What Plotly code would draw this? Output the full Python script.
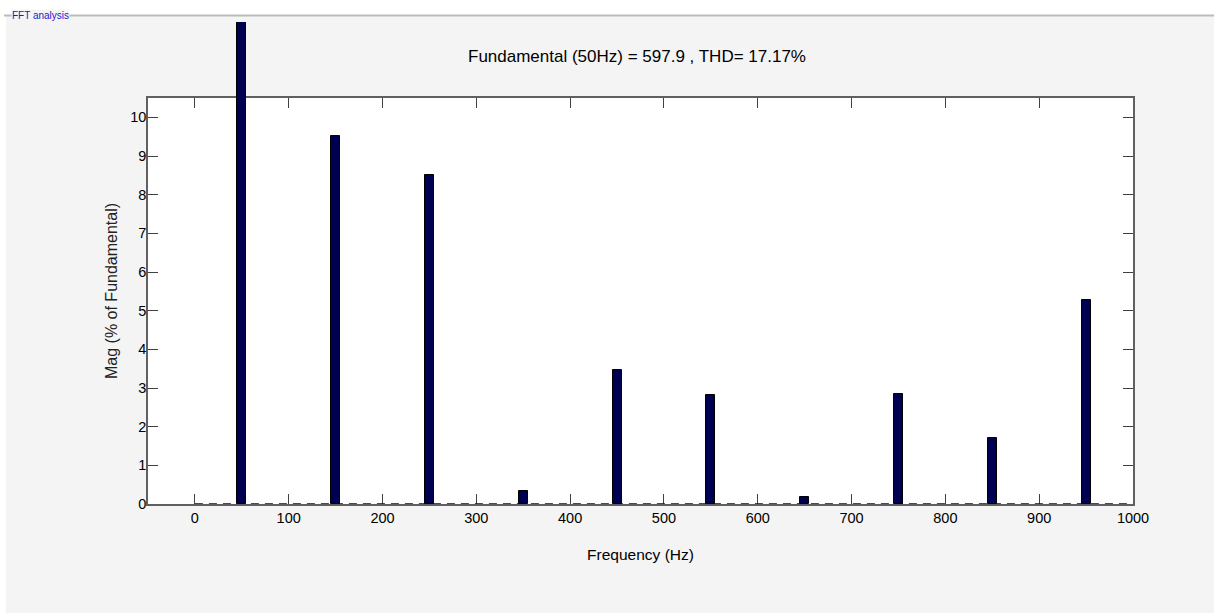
import plotly.graph_objects as go

# Data
freqs = [50, 150, 250, 350, 450, 550, 650, 750, 850, 950]
mags = [100.0, 9.53, 8.50, 0.34, 3.46, 2.82, 0.18, 2.84, 1.71, 5.27]
baseline_x = [0, 1000]
baseline_y = [0, 0]
x_ticks = list(range(0, 1001, 100))
y_ticks = list(range(0, 11))
title_text = "Fundamental (50Hz) = 597.9 , THD= 17.17%"

W, H = 1214, 613
L, R, T, B = 148, 1214 - 1133, 22, 613 - 504
ph = H - T - B
pw = W - L - R
ytop = (504 - 98) / ph
YMAX = 10.5

def px_x(p):
    return (p - L) / pw

def px_y(p):
    return (504 - p) / ph

fig = go.Figure()

fig.add_trace(go.Scatter(
    x=baseline_x, y=baseline_y, mode="lines",
    line=dict(color="#111111", width=1.6, dash="8px,6px"),
    xaxis="x", yaxis="y", cliponaxis=False, showlegend=False, hoverinfo="skip"))

fig.add_trace(go.Bar(
    x=freqs, y=mags, width=9.5,
    marker=dict(color="#000050", line=dict(color="#000000", width=1)),
    xaxis="x", yaxis="y2", showlegend=False))

axis_font = dict(family="Liberation Sans, Arial", size=14.5, color="#000000")

fig.update_layout(
    width=W, height=H,
    margin=dict(l=L, r=R, t=T, b=B),
    paper_bgcolor="#ffffff",
    plot_bgcolor="rgba(0,0,0,0)",
    bargap=0,
    xaxis=dict(
        range=[-50, 1000], tickvals=x_ticks, ticktext=[str(v) for v in x_ticks],
        ticks="inside", ticklen=10, tickcolor="#404040", mirror="ticks",
        showline=True, linecolor="#606060", linewidth=1.5,
        showgrid=False, zeroline=False, anchor="y", layer="below traces",
        tickfont=axis_font,
        title=dict(text="Frequency (Hz)", font=dict(family="Liberation Sans, Arial", size=15.5, color="#000"), standoff=24),
    ),
    yaxis=dict(
        range=[0, YMAX], domain=[0, ytop], tickvals=y_ticks,
        ticks="inside", ticklen=10, tickcolor="#404040", mirror="ticks",
        showline=True, linecolor="#606060", linewidth=1.5,
        showgrid=False, zeroline=False, anchor="x",
        tickfont=axis_font, ticklabelstandoff=-3,
    ),
    yaxis2=dict(
        range=[0, YMAX / ytop], domain=[0, 1], visible=False, anchor="x",
        fixedrange=True,
    ),
    shapes=[
        dict(type="rect", xref="paper", yref="paper",
             x0=px_x(6), x1=px_x(1214), y0=px_y(613), y1=px_y(16),
             fillcolor="#f4f4f4", line=dict(width=0), layer="below"),
        dict(type="rect", xref="paper", yref="paper",
             x0=0, x1=1, y0=0, y1=ytop,
             fillcolor="#ffffff", line=dict(width=0), layer="below"),
        dict(type="line", xref="paper", yref="paper",
             x0=px_x(4), x1=px_x(1214), y0=px_y(15.5), y1=px_y(15.5),
             line=dict(color="#bcbcbc", width=2), layer="below"),
    ],
    annotations=[
        dict(text=title_text, xref="paper", yref="paper",
             x=px_x(637), y=px_y(57), showarrow=False,
             xanchor="center", yanchor="middle",
             font=dict(family="Liberation Sans, Arial", size=17, color="#000")),
        dict(text="Mag (% of Fundamental)", xref="paper", yref="paper",
             x=px_x(111), y=px_y(291), showarrow=False, textangle=-90,
             xanchor="center", yanchor="middle",
             font=dict(family="Liberation Sans, Arial", size=16, color="#222")),
        dict(text="FFT analysis", xref="paper", yref="paper",
             x=px_x(11), y=px_y(15.5), showarrow=False,
             xanchor="left", yanchor="middle", bgcolor="#f4f4f4", borderpad=0,
             font=dict(family="Liberation Sans, Arial", size=10, color="#1a1acc")),
    ],
)

fig.write_html("out.html", config={"displayModeBar": False},
               post_script="document.body.style.margin='0';")
